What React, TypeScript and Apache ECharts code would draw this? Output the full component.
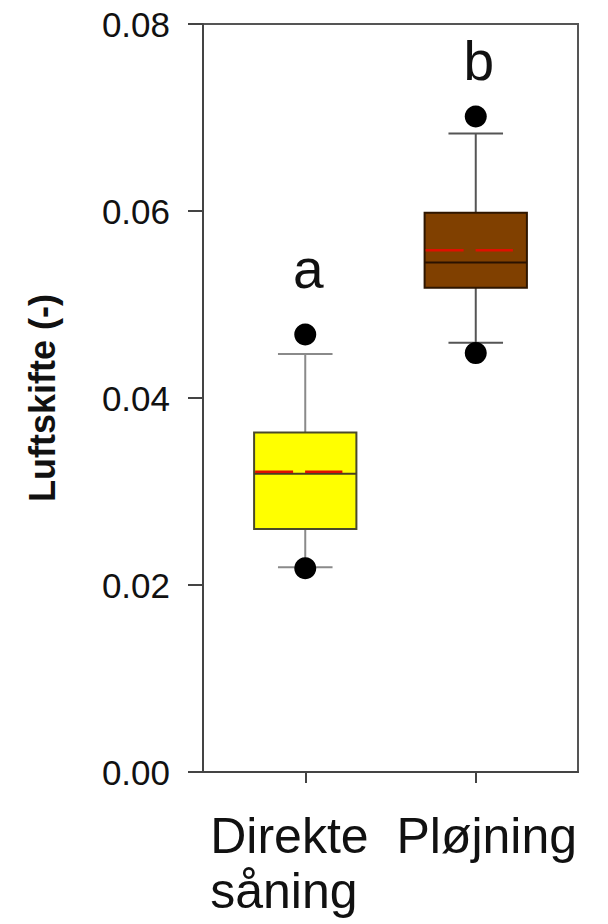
import React, { useEffect, useRef } from 'react';
import * as echarts from 'echarts';

// ---- data ----
const categories = ['Direkte\nsåning', 'Pløjning'];
const whiskerLow = [0.0219, 0.0459];
const q1 = [0.026, 0.0518];
const median = [0.0319, 0.0545];
const q3 = [0.0363, 0.0598];
const whiskerHigh = [0.0447, 0.0683];
const means = [0.0321, 0.0558];
const outlierCat = [0, 0, 1, 1];
const outlierY = [0.0218, 0.0468, 0.0448, 0.0701];
const letters = ['a', 'b'];
const letterY = [0.0538, 0.076];
const yTickValues = [0, 0.02, 0.04, 0.06, 0.08];

// ---- styles ----
const boxFill = ['#ffff00', '#804000'];
const boxStroke = ['#4a4a2a', '#2e1600'];
const whiskerColor = ['#8a8a8a', '#555555'];
const medianColor = ['#4a4020', '#2a1200'];
const FONT = '"Liberation Sans", Arial, Helvetica, sans-serif';

export default function App() {
  const ref = useRef<HTMLDivElement>(null);

  useEffect(() => {
    if (!ref.current) return;
    const chart = echarts.init(ref.current, undefined, { renderer: 'svg' });

    const boxData = categories.map((_, i) => [
      i,
      whiskerLow[i],
      q1[i],
      median[i],
      q3[i],
      whiskerHigh[i],
      means[i],
      letterY[i],
    ]);

    const option: any = {
      animation: false,
      backgroundColor: '#ffffff',
      grid: [
        {
          left: 203,
          right: 30,
          top: 24,
          bottom: 152,
          show: true,
          borderColor: '#555555',
          borderWidth: 2,
          backgroundColor: 'transparent',
        },
        {
          left: 220,
          right: 47,
          top: 24,
          bottom: 152,
          show: false,
        },
      ],
      xAxis: [
        {
          type: 'value',
          gridIndex: 0,
          min: 0,
          max: 1,
          splitLine: { show: false },
          axisLine: { show: true, lineStyle: { color: '#444', width: 2 } },
          axisTick: { show: false },
          axisLabel: { show: false },
        },
        {
          type: 'category',
          gridIndex: 1,
          data: categories,
          boundaryGap: true,
          axisLine: { show: false },
          axisTick: {
            show: true,
            alignWithLabel: true,
            inside: false,
            length: 11,
            lineStyle: { color: '#444', width: 2 },
          },
          splitLine: { show: false },
          axisLabel: {
            show: true,
            interval: 0,
            margin: 36,
            fontFamily: FONT,
            color: '#111',
            formatter: (v: string, idx: number) => {
              const lines = String(v).split('\n');
              const key = idx === 0 ? 'd' : 'p';
              return lines.map((l) => `{${key}|${l}}`).join('\n');
            },
            rich: {
              d: {
                width: 190,
                align: 'left',
                fontSize: 50,
                lineHeight: 55,
                fontFamily: FONT,
                color: '#111',
              },
              p: {
                padding: [0, 0, 0, 22],
                fontSize: 50,
                lineHeight: 55,
                fontFamily: FONT,
                color: '#111',
              },
            },
          },
        },
      ],
      yAxis: [
        {
          type: 'value',
          gridIndex: 0,
          min: 0,
          max: 0.08,
          interval: 0.02,
          splitLine: { show: false },
          axisLine: { show: true, lineStyle: { color: '#444', width: 2 } },
          axisTick: { show: true, inside: false, length: 15, lineStyle: { color: '#444', width: 2 } },
          axisLabel: {
            fontSize: 35,
            color: '#111',
            margin: 33,
            fontFamily: FONT,
            formatter: (v: number) =>
              yTickValues.some((t) => Math.abs(t - v) < 1e-9) ? v.toFixed(2) : '',
          },
          name: 'Luftskifte (-)',
          nameLocation: 'middle',
          nameRotate: 90,
          nameGap: 143,
          nameTextStyle: { fontSize: 36, fontWeight: 'bold', color: '#111', fontFamily: FONT },
        },
        {
          type: 'value',
          gridIndex: 1,
          min: 0,
          max: 0.08,
          interval: 0.02,
          show: false,
        },
      ],
      series: [
        {
          type: 'custom',
          xAxisIndex: 1,
          yAxisIndex: 1,
          data: boxData,
          z: 2,
          renderItem: (params: any, api: any) => {
            const i = params.dataIndex;
            const x = api.value(0);
            const pLo = api.coord([x, api.value(1)]);
            const pQ1 = api.coord([x, api.value(2)]);
            const pMed = api.coord([x, api.value(3)]);
            const pQ3 = api.coord([x, api.value(4)]);
            const pHi = api.coord([x, api.value(5)]);
            const pMean = api.coord([x, api.value(6)]);
            const pLetter = api.coord([x, api.value(7)]);
            const band = api.size([1, 0])[0];
            const halfW = band * 0.3;
            const capHalf = band * 0.16;
            const cx = pMed[0];
            const wStyle = { stroke: whiskerColor[i], lineWidth: 2 };
            return {
              type: 'group',
              children: [
                { type: 'line', shape: { x1: cx, y1: pHi[1], x2: cx, y2: pQ3[1] }, style: wStyle },
                { type: 'line', shape: { x1: cx, y1: pQ1[1], x2: cx, y2: pLo[1] }, style: wStyle },
                { type: 'line', shape: { x1: cx - capHalf, y1: pHi[1], x2: cx + capHalf, y2: pHi[1] }, style: wStyle },
                { type: 'line', shape: { x1: cx - capHalf, y1: pLo[1], x2: cx + capHalf, y2: pLo[1] }, style: wStyle },
                {
                  type: 'rect',
                  shape: { x: cx - halfW, y: pQ3[1], width: halfW * 2, height: pQ1[1] - pQ3[1] },
                  style: { fill: boxFill[i], stroke: boxStroke[i], lineWidth: 2 },
                },
                {
                  type: 'line',
                  shape: { x1: cx - halfW, y1: pMed[1], x2: cx + halfW, y2: pMed[1] },
                  style: { stroke: medianColor[i], lineWidth: 2 },
                },
                {
                  type: 'line',
                  shape: { x1: cx - halfW + 1, y1: pMean[1], x2: cx + halfW - 14, y2: pMean[1] },
                  style: { stroke: '#e01000', lineWidth: 2.5, lineDash: [38, 12] },
                },
                {
                  type: 'text',
                  x: pLetter[0] + 3,
                  y: pLetter[1],
                  style: {
                    text: letters[i],
                    fontSize: 55,
                    fontFamily: FONT,
                    fill: '#111',
                    textAlign: 'center',
                    textVerticalAlign: 'middle',
                  },
                },
              ],
            };
          },
        },
        {
          type: 'scatter',
          xAxisIndex: 1,
          yAxisIndex: 1,
          data: outlierCat.map((c, i) => [c, outlierY[i]]),
          symbol: 'circle',
          symbolSize: 22,
          itemStyle: { color: '#000', opacity: 1 },
          z: 5,
        },
      ],
    };

    chart.setOption(option);
    return () => chart.dispose();
  }, []);

  return (
    <div
      ref={ref}
      style={{ position: 'absolute', left: 0, top: 0, width: 608, height: 924 }}
    />
  );
}
